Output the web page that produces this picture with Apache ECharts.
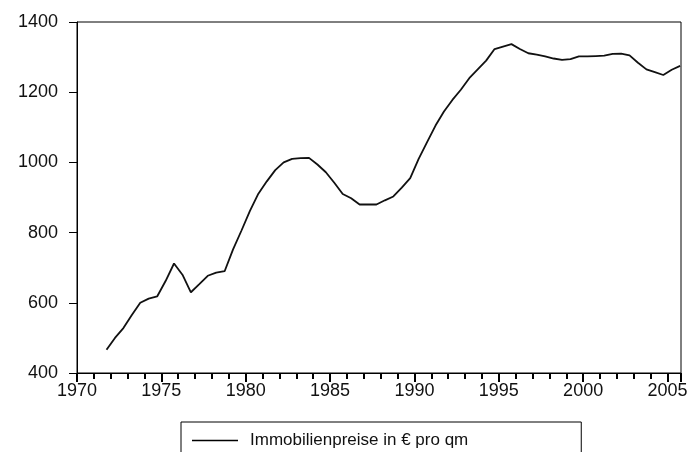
<!DOCTYPE html>
<html>
<head>
<meta charset="utf-8">
<script src="https://cdn.jsdelivr.net/npm/echarts@6/dist/echarts.min.js"></script>
<style>
  html, body { margin: 0; padding: 0; background: #fff; }
  #chart { width: 695px; height: 452px; }
</style>
</head>
<body>
<div id="chart"></div>
<script>
// half-yearly observations, first one in late 1971
const startYear = 1971.75;
const stepYears = 0.5;
const prices = [
  466, 500, 528, 565, 600, 612, 618, 662, 712, 680,
  630, 653, 677, 686, 690, 752, 806, 862, 911, 946,
  978, 1000, 1010, 1012, 1013, 994, 972, 942, 910, 898,
  880, 880, 880, 892, 903, 928, 955, 1010, 1058, 1105,
  1145, 1178, 1207, 1240, 1265, 1290, 1323, 1330, 1337, 1323,
  1311, 1307, 1302, 1296, 1292, 1294, 1302, 1302, 1303, 1304,
  1309, 1310, 1305, 1284, 1265, 1257, 1249, 1264, 1275
];
const seriesName = "Immobilienpreise in € pro qm";
const xMin = 1970, xMax = 2005.8;
const yMin = 400, yMax = 1400;

const lineData = prices.map((v, i) => [startYear + i * stepYears, v]);

const ink = "#000";
const font = "Arial, 'Liberation Sans', sans-serif";

const chart = echarts.init(document.getElementById("chart"));
chart.setOption({
  animation: false,
  grid: {
    left: 77, right: 14, top: 22, bottom: 79,
    show: true, borderColor: ink, borderWidth: 1
  },
  legend: {
    left: 181, top: 422,
    padding: [10, 113, 10, 11],
    borderColor: ink, borderWidth: 1, borderRadius: 0,
    icon: "rect", itemWidth: 46, itemHeight: 1.5, itemGap: 0,
    itemStyle: { color: ink },
    textStyle: { color: "#111", fontSize: 17, fontFamily: font, padding: [0, 0, 0, 7] },
    data: [seriesName]
  },
  xAxis: [
    {
      type: "value", min: xMin, max: xMax, interval: 5,
      axisLine: { show: true, onZero: false, lineStyle: { color: ink } },
      axisTick: { show: true, length: 9, lineStyle: { color: ink, width: 2 } },
      minorTick: { show: true, splitNumber: 5, length: 6, lineStyle: { color: ink, width: 2 } },
      axisLabel: {
        margin: 9, color: "#111", fontSize: 18, fontFamily: font,
        formatter: (v) => (v % 5 === 0 ? String(v) : "")
      },
      splitLine: { show: false }
    }
  ],
  yAxis: {
    type: "value", min: yMin, max: yMax, interval: 200,
    axisLine: { show: true, lineStyle: { color: ink } },
    axisTick: { show: true, length: 8, lineStyle: { color: ink } },
    axisLabel: { margin: 19, color: "#111", fontSize: 18, fontFamily: font, formatter: (v) => String(v) },
    splitLine: { show: false }
  },
  series: [
    {
      name: seriesName,
      type: "line",
      symbol: "none",
      data: lineData,
      lineStyle: { color: "#111", width: 1.8 },
      itemStyle: { color: "#111" }
    }
  ]
});
</script>
</body>
</html>
